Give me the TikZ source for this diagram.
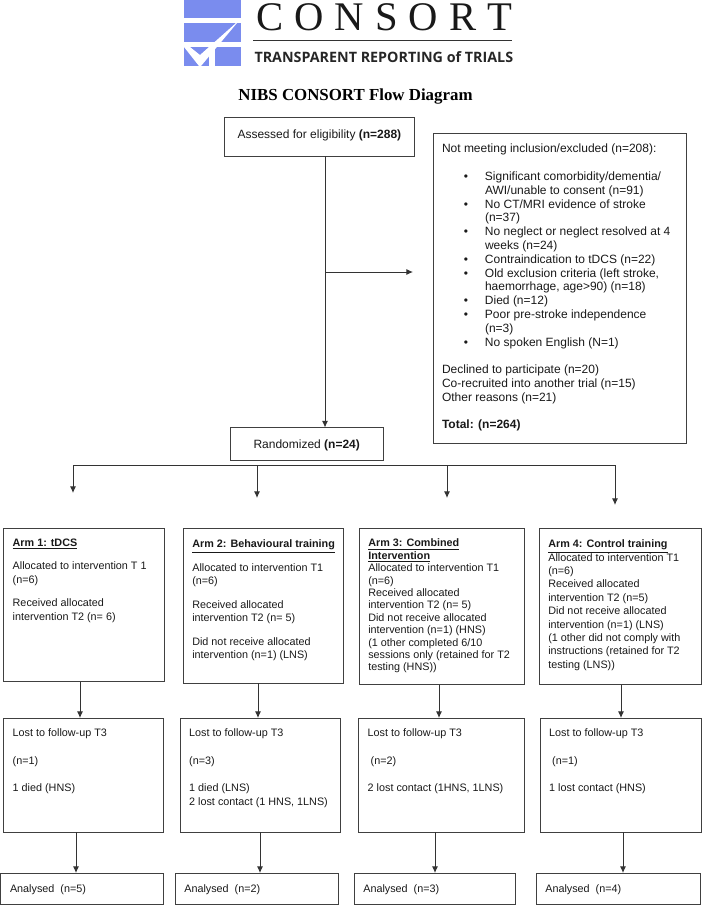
\documentclass[tikz,border=0pt]{standalone}
\usepackage{fontspec}
\setmainfont{Liberation Sans}
\newfontfamily\serifhead{Liberation Serif}
\newfontfamily\tagfont{Open Sans}
\usepackage{tikz}
\usetikzlibrary{arrows,arrows.meta,calc,positioning}

\definecolor{logoblue}{RGB}{122,140,238}
\newlength{\px}
\setlength{\px}{0.75pt}

% box body: width, height, left pad, top pad, text
\newcommand{\boxtxt}[5]{\parbox[c][#2\px][t]{#1\px}{\leftskip=#3\px\relax\vspace*{#4\px}\strut #5}}
\newcommand{\gap}{\\[9.4\px]}
\newcommand{\itm}{\hspace*{43\px}\llap{\textbullet\hspace{17\px}}}
\newcommand{\cnt}{\hspace*{43\px}}

\begin{document}
\begin{tikzpicture}[x=0.75pt, y=-0.75pt, >={Latex[length=5pt,width=4.6pt]}, line width=0.75pt]
   \useasboundingbox (0,0) rectangle (701,907);
   % logo
   \fill[logoblue] (184,0) rectangle (241,18);
   \fill[logoblue] (184,23) rectangle (241,42);
   \fill[logoblue] (184,47) rectangle (209,66);
   \fill[logoblue] (215,47) rectangle (241,66);
   \fill[white] (184,47) -- (190,47) -- (200,55) -- (236,23) -- (237,23) -- (201,66) -- (199,66) -- cycle;
   \node (logoname) [anchor=base west, inner sep=0, font=\serifhead\fontsize{30.5}{32}\selectfont, text=black!90] at (255.5,30.5) {C\hspace{8.3pt}O\hspace{8.3pt}N\hspace{8.3pt}S\hspace{8.3pt}O\hspace{8.3pt}R\hspace{8.3pt}T};
   \draw[black!80, line width=0.6pt] (253,40) -- (512,40);
   \node (logotag) [anchor=base west, inner sep=0, text=black!85] at (254,62) {\resizebox{194pt}{!}{\tagfont\bfseries TRANSPARENT REPORTING of TRIALS}};
   \node (title) [anchor=base, inner sep=0, font=\serifhead\bfseries\fontsize{12.65}{15}\selectfont] at (355.5,100) {NIBS CONSORT Flow Diagram};

   \begin{scope}[every node/.style={draw=black!75, anchor=north west, inner sep=0, outer sep=0, text=black!90, font=\fontsize{9}{10.35}\selectfont}]
    \node (assess) at (224.5,117.5) {\boxtxt{189.5}{38.5}{13}{11}{Assessed for eligibility \textbf{(n=288)}}};
    \node (excl) at (433,133) {\boxtxt{253}{310}{9}{10.3}{Not meeting inclusion/excluded (n=208):\\[13.8\px]
      \itm Significant comorbidity/dementia/\\
      \cnt AWI/unable to consent (n=91)\\
      \itm No CT/MRI evidence of stroke\\
      \cnt (n=37)\\
      \itm No neglect or neglect resolved at 4\\
      \cnt weeks (n=24)\\
      \itm Contraindication to tDCS (n=22)\\
      \itm Old exclusion criteria (left stroke,\\
      \cnt haemorrhage, age>90) (n=18)\\
      \itm Died (n=12)\\
      \itm Poor pre-stroke independence\\
      \cnt (n=3)\\
      \itm No spoken English (N=1)\\[13.8\px]
      Declined to participate (n=20)\\
      Co-recruited into another trial (n=15)\\
      Other reasons (n=21)\\[13.8\px]
      \textbf{Total: (n=264)}}};
    \node (rand) at (230.5,427.5) {\boxtxt{153}{32.5}{23}{11}{Randomized \textbf{(n=24)}}};
   \end{scope}

   \begin{scope}[every node/.style={draw=black!75, anchor=north west, inner sep=0, outer sep=0, text=black!90, font=\fontsize{8.1}{10.35}\selectfont}]
    \node (arm1) at (3.5,528) {\boxtxt{160.5}{153.5}{9.2}{9}{\underline{\textbf{Arm 1: tDCS}}\gap
      Allocated to intervention T 1\\
      (n=6)\gap
      Received allocated\\
      intervention T2 (n= 6)}};
    \node (arm2) at (183,528) {\boxtxt{160}{155}{9.3}{10.3}{\underline{\textbf{Arm 2: Behavioural training}}\gap
      Allocated to intervention T1\\
      (n=6)\gap
      Received allocated\\
      intervention T2 (n= 5)\gap
      Did not receive allocated\\
      intervention (n=1) (LNS)}};
    \node (arm3) at (359,528) {\boxtxt{165}{156.5}{9.3}{9.3}{\baselineskip=12.4\px
      \underline{\textbf{Arm 3: Combined}}\\
      \underline{\textbf{Intervention}}\\
      Allocated to intervention T1\\
      (n=6)\\
      Received allocated\\
      intervention T2 (n= 5)\\
      Did not receive allocated\\
      intervention (n=1) (HNS)\\
      (1 other completed 6/10\\
      sessions only (retained for T2\\
      testing (HNS))}};
    \node (arm4) at (539,528) {\boxtxt{162}{156.5}{9.3}{10}{\baselineskip=13.4\px
      \underline{\textbf{Arm 4: Control training}}\\
      Allocated to intervention T1\\
      (n=6)\\
      Received allocated\\
      intervention T2 (n=5)\\
      Did not receive allocated\\
      intervention (n=1) (LNS)\\
      (1 other did not comply with\\
      instructions (retained for T2\\
      testing (LNS))}};

    \node (lost1) at (3.5,718) {\boxtxt{160}{114}{9.2}{9.3}{Lost to follow-up T3\\[13.6\px]
      (n=1)\\[13.2\px]
      1 died (HNS)}};
    \node (lost2) at (180,718) {\boxtxt{160}{114}{9.2}{9.3}{Lost to follow-up T3\\[13.6\px]
      (n=3)\\[13.2\px]
      1 died (LNS)\\
      2 lost contact (1 HNS, 1LNS)}};
    \node (lost3) at (358.5,718) {\boxtxt{165.5}{114}{9.2}{9.3}{Lost to follow-up T3\\[13.6\px]
      \hspace*{3\px}(n=2)\\[13.2\px]
      2 lost contact (1HNS, 1LNS)}};
    \node (lost4) at (540,718) {\boxtxt{161}{114}{9.2}{9.3}{Lost to follow-up T3\\[13.6\px]
      \hspace*{3\px}(n=1)\\[13.2\px]
      1 lost contact (HNS)}};

    \node (ana1) at (0.5,873) {\boxtxt{163}{31.5}{9.5}{10}{Analysed\ \ (n=5)}};
    \node (ana2) at (175,873) {\boxtxt{163}{31.5}{9.3}{10}{Analysed\ \ (n=2)}};
    \node (ana3) at (354,873) {\boxtxt{161}{31.5}{9.3}{10}{Analysed\ \ (n=3)}};
    \node (ana4) at (536,873) {\boxtxt{164}{31.5}{9.3}{10}{Analysed\ \ (n=4)}};
   \end{scope}

   % junctions and free ends
   \coordinate (trunk) at (325,272);
   \coordinate (exclin) at (413,272);
   \coordinate (barl) at (73,465);
   \coordinate (barr) at (615,465);
   \coordinate (bar2) at (257,465);
   \coordinate (bar3) at (447,465);
   \coordinate (tip1) at (73,493);
   \coordinate (tip2) at (257,498);
   \coordinate (tip3) at (447,498);
   \coordinate (tip4) at (615,505);
   \coordinate (down1) at (80,700);
   \coordinate (down2) at (258,700);
   \coordinate (down3) at (439,700);
   \coordinate (down4) at (621,700);
   \coordinate (last1) at (76,850);
   \coordinate (last2) at (260,850);
   \coordinate (last3) at (435,850);
   \coordinate (last4) at (623,850);

   \begin{scope}[every edge/.style={draw=black!80,line width=0.75pt,->}]
    \draw  (assess.south -| trunk) edge (rand.north -| trunk);
    \draw  (trunk) edge (exclin);
    \draw [black!80] (barl) -- (barr);
    \draw  (barl) edge (tip1);
    \draw  (bar2) edge (tip2);
    \draw  (bar3) edge (tip3);
    \draw  (barr) edge (tip4);
    \draw  (arm1.south -| down1) edge (lost1.north -| down1);
    \draw  (arm2.south -| down2) edge (lost2.north -| down2);
    \draw  (arm3.south -| down3) edge (lost3.north -| down3);
    \draw  (arm4.south -| down4) edge (lost4.north -| down4);
    \draw  (lost1.south -| last1) edge (ana1.north -| last1);
    \draw  (lost2.south -| last2) edge (ana2.north -| last2);
    \draw  (lost3.south -| last3) edge (ana3.north -| last3);
    \draw  (lost4.south -| last4) edge (ana4.north -| last4);
   \end{scope}
\end{tikzpicture}
\end{document}
